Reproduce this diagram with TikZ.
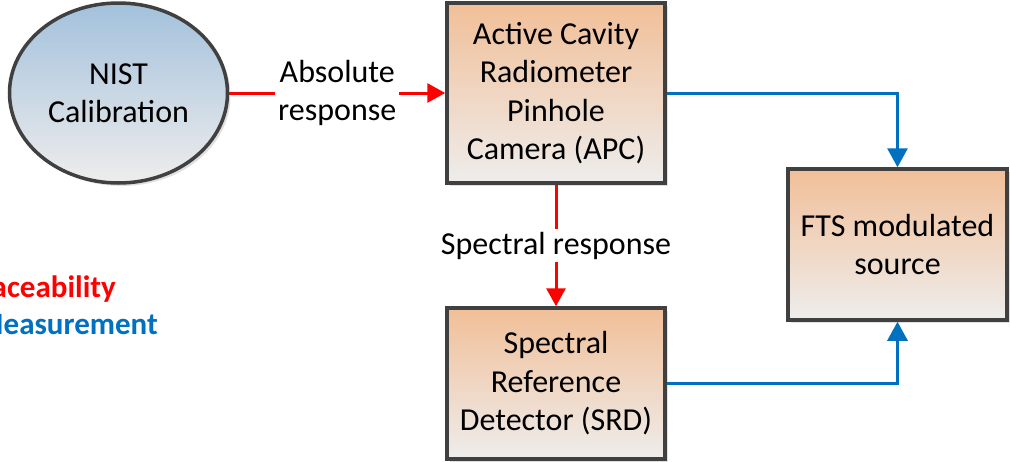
\documentclass[tikz,border=0pt]{standalone}
\usepackage{fontspec}
\setmainfont{Carlito}
\usetikzlibrary{shapes.geometric,arrows.meta,shadows}
\definecolor{tred}{HTML}{FF0000}
\definecolor{tblue}{HTML}{0070C0}
\definecolor{bordergray}{HTML}{404040}
\definecolor{peach}{HTML}{F1BF98}
\definecolor{paleg}{HTML}{EEEDEC}
\definecolor{skyb}{HTML}{A3C1DC}
\tikzset{
  x=1pt,y=-1pt,
  lbl/.style={font=\fontsize{32pt}{38.5pt}\selectfont, align=center, inner sep=2pt},
  blk/.style={lbl, rectangle, draw=bordergray, line width=3.5pt,
    top color=peach, bottom color=paleg,
    drop shadow={shadow xshift=3pt, shadow yshift=-3pt, fill=black!20, opacity=0.6}},
  oval/.style={lbl, ellipse, draw=bordergray, line width=3.5pt, inner sep=0pt,
    top color=skyb, bottom color=paleg,
    drop shadow={shadow xshift=3pt, shadow yshift=-3pt, fill=black!20, opacity=0.6}},
  redarrow/.style={draw=tred, line width=3pt, -{Triangle[width=19pt,length=18pt]}},
  bluearrow/.style={draw=tblue, line width=3pt, -{Triangle[width=20pt,length=19pt]}},
  edgelbl/.style={lbl, fill=white, inner sep=3pt},
  legendtxt/.style={font=\fontsize{31pt}{36pt}\selectfont\bfseries, inner sep=0pt}
}
\begin{document}
\begin{tikzpicture}
\useasboundingbox (0,0) rectangle (1010,461);
\clip (0,0) rectangle (1010,461);
\node[oval, minimum width=218pt, minimum height=180pt] (nist) at (118.5,93) {NIST\\Calibration};
\node[blk, minimum width=218pt, minimum height=180pt] (apc) at (556,93) {Active Cavity\\Radiometer\\Pinhole\\Camera (APC)};
\node[blk, minimum width=218pt, minimum height=151pt] (srd) at (556,383.5) {Spectral\\Reference\\Detector (SRD)};
\node[blk, minimum width=219pt, minimum height=151pt] (fts) at (897.5,244.5) {FTS modulated\\source};
\draw[redarrow] (nist.east) -- node[edgelbl] (abs) {Absolute\\response} (apc.west);
\draw[redarrow] (apc.south) -- node[edgelbl] (spec) {Spectral response} (srd.north);
\draw[bluearrow] (apc.east) -| (fts.north);
\draw[bluearrow] (srd.east) -| (fts.south);
\node[legendtxt, text=tred, anchor=base east] (trace) at (116,297) {Traceability};
\node[legendtxt, text=tblue, anchor=base east] (meas) at (158,334) {Measurement};
\end{tikzpicture}
\end{document}
